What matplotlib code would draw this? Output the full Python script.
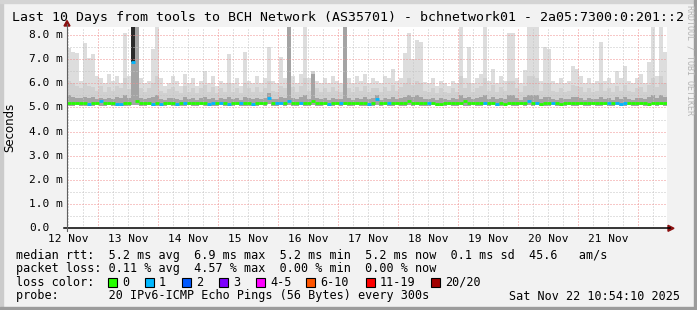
"""
SmokePing style chart: Last 10 days from tools to BCH Network
"""

import pandas as pd
import numpy as np
import matplotlib
matplotlib.use('Agg')
import matplotlib.pyplot as plt
import matplotlib.dates as mdates
from matplotlib.patches import Rectangle, Polygon
from matplotlib.lines import Line2D

W, H = 697, 310
MONO = 'DejaVu Sans Mono'

TITLE = 'Last 10 Days from tools to BCH Network (AS35701) - bchnetwork01 - 2a05:7300:0:201::2'

# 150 steps of 96 minutes, first one at 12 Nov 11:30
START = '2025-11-12 11:30'
STEP_MIN = 96

# smoke: top (max ping) of each step, in ms
rtt_max = [
    7.45, 7.3, 7.25, 6.1, 7.65, 7.05, 7.2, 6.3, 6.2, 6.0, 6.4, 6.1, 6.3, 6.0, 8.1,
    6.3, 8.4, 8.4, 6.2, 6.0, 6.1, 7.4, 8.4, 6.2, 5.9, 6.0, 6.3, 6.1, 5.9, 6.4,
    6.0, 6.2, 5.9, 6.1, 6.5, 6.0, 6.3, 5.9, 6.1, 6.0, 7.2, 6.0, 6.2, 5.9, 7.3,
    6.1, 6.0, 6.3, 6.0, 6.2, 7.5, 6.1, 6.0, 7.1, 6.2, 8.4, 6.3, 6.0, 6.4, 8.4,
    6.2, 6.5, 6.1, 6.0, 6.2, 6.0, 6.3, 6.1, 6.0, 8.4, 6.2, 6.0, 6.3, 6.1, 6.4,
    6.0, 6.2, 6.1, 6.0, 6.3, 6.2, 6.6, 6.1, 6.2, 7.26, 8.1, 7.0, 7.8, 7.7, 6.05,
    6.0, 6.2, 5.9, 6.1, 6.0, 5.9, 6.1, 6.0, 8.4, 6.2, 7.5, 6.0, 6.2, 6.4, 8.4,
    6.1, 6.6, 6.0, 6.3, 6.1, 8.1, 8.1, 6.2, 6.0, 6.55, 8.4, 8.4, 8.4, 6.1, 7.5,
    7.4, 6.1, 6.0, 6.2, 6.0, 6.1, 6.7, 6.6, 6.3, 6.0, 6.2, 6.0, 6.1, 7.7, 6.1,
    6.2, 6.0, 6.5, 6.2, 6.7, 6.1, 6.0, 6.2, 6.4, 6.0, 6.9, 8.4, 6.3, 8.4, 7.3,
]

# smoke: upper bulk of pings
rtt_hi = [
    6.1, 6.0, 5.9, 5.8, 6.0, 5.9, 5.85, 5.7, 5.9, 5.65, 5.85, 5.7, 5.9, 5.8, 6.2,
    5.75, 8.4, 8.4, 5.8, 5.65, 5.8, 6.0, 6.3, 5.7, 5.6, 5.75, 5.85, 5.7, 5.6, 5.9,
    5.65, 5.8, 5.6, 5.8, 5.95, 5.65, 5.85, 5.6, 5.8, 5.65, 6.0, 5.65, 5.8, 5.6, 6.0,
    5.8, 5.65, 5.85, 5.65, 5.8, 6.1, 5.7, 5.65, 5.9, 5.8, 8.4, 5.85, 5.65, 5.9, 6.2,
    5.7, 6.5, 5.8, 5.65, 5.8, 5.65, 5.85, 5.7, 5.65, 8.4, 5.8, 5.65, 5.85, 5.7, 5.9,
    5.65, 5.8, 5.8, 5.65, 5.85, 5.7, 5.95, 5.7, 5.85, 6.0, 6.2, 5.95, 6.1, 6.0, 5.7,
    5.65, 5.8, 5.6, 5.8, 5.65, 5.6, 5.8, 5.65, 6.3, 5.8, 6.0, 5.65, 5.8, 5.9, 6.2,
    5.7, 5.95, 5.65, 5.85, 5.7, 6.1, 6.1, 5.8, 5.65, 5.9, 6.3, 6.3, 6.2, 5.7, 6.0,
    6.0, 5.7, 5.65, 5.8, 5.65, 5.7, 5.95, 5.9, 5.85, 5.65, 5.8, 5.65, 5.7, 6.0, 5.7,
    5.8, 5.65, 5.9, 5.7, 5.95, 5.7, 5.65, 5.8, 5.85, 5.65, 5.95, 6.2, 5.85, 6.3, 6.0,
]

# smoke: dense part around the median
rtt_mid = [
    5.5, 5.45, 5.4, 5.4, 5.45, 5.4, 5.45, 5.35, 5.4, 5.35, 5.4, 5.35, 5.45, 5.4, 5.5,
    5.4, 8.4, 8.4, 5.4, 5.35, 5.4, 5.45, 5.5, 5.35, 5.3, 5.4, 5.4, 5.35, 5.3, 5.45,
    5.35, 5.4, 5.3, 5.4, 5.45, 5.35, 5.4, 5.3, 5.4, 5.35, 5.45, 5.35, 5.4, 5.3, 5.45,
    5.4, 5.35, 5.4, 5.35, 5.4, 5.6, 5.35, 5.35, 5.45, 5.4, 8.4, 5.4, 5.35, 5.45, 5.5,
    5.35, 6.4, 5.4, 5.35, 5.4, 5.3, 5.4, 5.35, 5.35, 8.4, 5.4, 5.3, 5.4, 5.35, 5.45,
    5.35, 5.4, 5.5, 5.3, 5.4, 5.35, 5.45, 5.35, 5.4, 5.45, 5.5, 5.45, 5.5, 5.45, 5.35,
    5.35, 5.4, 5.3, 5.4, 5.35, 5.3, 5.4, 5.35, 5.5, 5.4, 5.45, 5.35, 5.4, 5.45, 5.5,
    5.35, 5.45, 5.35, 5.4, 5.35, 5.5, 5.5, 5.4, 5.3, 5.45, 5.5, 5.5, 5.5, 5.35, 5.45,
    5.45, 5.35, 5.3, 5.4, 5.35, 5.35, 5.45, 5.45, 5.4, 5.3, 5.4, 5.35, 5.35, 5.45, 5.35,
    5.4, 5.3, 5.45, 5.35, 5.45, 5.35, 5.3, 5.4, 5.4, 5.35, 5.45, 5.5, 5.4, 5.5, 5.45,
]

# smoke: bottom (min ping)
rtt_min = [
    5.08, 5.08, 5.1, 5.08, 5.08, 5.05, 5.08, 5.1, 5.08, 5.08, 5.1, 5.08, 5.05, 5.05, 5.08,
    5.08, 5.1, 5.1, 5.08, 5.08, 5.1, 5.05, 5.08, 5.05, 5.08, 5.1, 5.08, 5.05, 5.08, 5.08,
    5.1, 5.08, 5.08, 5.1, 5.08, 5.05, 5.08, 5.08, 5.1, 5.08, 5.05, 5.08, 5.1, 5.08, 5.08,
    5.08, 5.05, 5.08, 5.1, 5.08, 5.15, 5.08, 5.08, 5.1, 5.08, 5.1, 5.08, 5.08, 5.1, 5.08,
    5.08, 5.1, 5.08, 5.08, 5.1, 5.05, 5.08, 5.1, 5.08, 5.1, 5.08, 5.08, 5.1, 5.08, 5.08,
    5.05, 5.08, 5.12, 5.08, 5.1, 5.08, 5.08, 5.1, 5.08, 5.08, 5.1, 5.08, 5.1, 5.08, 5.08,
    5.08, 5.1, 5.05, 5.05, 5.08, 5.1, 5.08, 5.08, 5.1, 5.08, 5.08, 5.1, 5.08, 5.08, 5.1,
    5.08, 5.1, 5.05, 5.08, 5.05, 5.1, 5.08, 5.08, 5.1, 5.08, 5.1, 5.08, 5.1, 5.05, 5.08,
    5.08, 5.1, 5.08, 5.05, 5.08, 5.1, 5.08, 5.08, 5.1, 5.08, 5.08, 5.1, 5.08, 5.08, 5.1,
    5.08, 5.08, 5.1, 5.05, 5.08, 5.1, 5.08, 5.08, 5.1, 5.08, 5.05, 5.1, 5.08, 5.1, 5.08,
]

# median rtt, in ms
median = [
    5.2, 5.2, 5.2, 5.2, 5.2, 5.15, 5.2, 5.2, 5.25, 5.2, 5.2, 5.2, 5.15, 5.15, 5.2,
    5.2, 6.9, 5.25, 5.2, 5.2, 5.2, 5.15, 5.2, 5.15, 5.2, 5.2, 5.2, 5.15, 5.2, 5.2,
    5.2, 5.2, 5.2, 5.2, 5.2, 5.15, 5.2, 5.2, 5.2, 5.2, 5.15, 5.2, 5.2, 5.2, 5.2,
    5.2, 5.15, 5.2, 5.2, 5.2, 5.4, 5.2, 5.2, 5.2, 5.2, 5.25, 5.2, 5.2, 5.2, 5.2,
    5.2, 5.25, 5.2, 5.2, 5.2, 5.15, 5.2, 5.2, 5.2, 5.2, 5.2, 5.2, 5.2, 5.2, 5.2,
    5.15, 5.2, 5.35, 5.2, 5.2, 5.2, 5.2, 5.2, 5.2, 5.2, 5.25, 5.2, 5.2, 5.2, 5.2,
    5.2, 5.2, 5.15, 5.15, 5.2, 5.2, 5.2, 5.2, 5.2, 5.25, 5.2, 5.2, 5.2, 5.2, 5.2,
    5.2, 5.2, 5.15, 5.2, 5.15, 5.2, 5.2, 5.2, 5.2, 5.2, 5.25, 5.2, 5.2, 5.15, 5.2,
    5.2, 5.2, 5.2, 5.15, 5.2, 5.2, 5.2, 5.2, 5.2, 5.2, 5.2, 5.2, 5.2, 5.2, 5.2,
    5.2, 5.2, 5.2, 5.15, 5.2, 5.2, 5.2, 5.2, 5.2, 5.2, 5.15, 5.2, 5.2, 5.2, 5.2,
]

# lost pings (of 20) per step
loss = [
    0, 0, 0, 0, 0, 1, 0, 0, 1, 0, 0, 0, 1, 1, 0,
    0, 1, 0, 0, 0, 0, 1, 0, 1, 0, 0, 0, 1, 0, 1,
    0, 0, 0, 0, 0, 1, 1, 0, 1, 0, 1, 0, 0, 1, 0,
    0, 1, 0, 0, 0, 1, 0, 1, 1, 0, 1, 0, 0, 1, 0,
    0, 0, 0, 0, 0, 1, 0, 0, 1, 0, 0, 0, 0, 0, 0,
    1, 0, 1, 0, 0, 1, 0, 0, 0, 0, 0, 0, 0, 0, 0,
    1, 0, 0, 0, 0, 0, 0, 0, 0, 0, 0, 0, 0, 0, 1,
    0, 0, 1, 0, 0, 0, 0, 0, 0, 0, 1, 0, 1, 0, 0,
    0, 1, 0, 0, 0, 0, 0, 0, 0, 0, 0, 0, 0, 0, 0,
    1, 0, 1, 1, 1, 0, 0, 0, 0, 0, 0, 0, 0, 0, 0,
]

# steps where nearly all pings were slow (black column)
dense_steps = [16]
dense_top = [8.4]

# legend of loss colours
loss_labels = ['0', '1', '2', '3', '4-5', '6-10', '11-19', '20/20']
loss_colors = ['#26ff00', '#00b8ff', '#0059ff', '#7e00ff', '#ff00ff', '#ff5500', '#ff0000', '#a10000']
loss_box_x = [108, 145, 182, 219, 256, 306, 366, 431]
loss_text_x = [122, 159, 196, 233, 270, 320, 380, 445]

day_labels = ['12 Nov', '13 Nov', '14 Nov', '15 Nov', '16 Nov',
              '17 Nov', '18 Nov', '19 Nov', '20 Nov', '21 Nov']
y_ticks = [0, 1, 2, 3, 4, 5, 6, 7, 8]

stat_lines = [
    'median rtt:  5.2 ms avg  6.9 ms max  5.2 ms min  5.2 ms now  0.1 ms sd  45.6   am/s',
    'packet loss: 0.11 % avg  4.57 % max  0.00 % min  0.00 % now',
]
probe_line = 'probe:       20 IPv6-ICMP Echo Pings (56 Bytes) every 300s'
stamp = 'Sat Nov 22 10:54:10 2025'


def fpx(x, y):
    """pixel position (from top left) -> figure fraction"""
    return x / W, 1 - y / H


def plot_smokeping(output_path='out.png'):
    fig = plt.figure(figsize=(W / 100, H / 100), dpi=100, facecolor='#f2f2f2')

    # plot area: x 67..667, y 27..228.3 (pixels)
    ax = fig.add_axes([67 / W, 1 - 228.3 / H, 600 / W, 201.3 / H])
    ax.set_facecolor('white')
    for s in ax.spines.values():
        s.set_visible(False)

    times = pd.date_range(START, periods=len(rtt_max), freq=f'{STEP_MIN}min')
    tx = mdates.date2num(times.to_pydatetime())
    step = STEP_MIN / 1440.0
    t0, t1 = tx[0], tx[0] + 10

    lo = np.array(rtt_min)
    # smoke layers, light to dark
    ax.bar(tx, np.array(rtt_max) - lo, bottom=lo, width=step, align='edge',
           color='#dddddd', linewidth=0, zorder=2)
    ax.bar(tx, np.array(rtt_hi) - lo, bottom=lo, width=step, align='edge',
           color='#d0d0d0', linewidth=0, zorder=2)
    ax.bar(tx, np.array(rtt_mid) - lo, bottom=lo, width=step, align='edge',
           color='#a4a4a4', linewidth=0, zorder=2)
    dx = tx[dense_steps]
    dm = np.array(median)[dense_steps]
    ax.bar(dx, np.array(dense_top) - dm, bottom=dm, width=step, align='edge',
           color='#2a2a2a', linewidth=0, zorder=2)

    # grid: 6 h / 0.5 ms minor, day / 1 ms major
    hours = mdates.date2num(pd.date_range('2025-11-12 12:00', '2025-11-22 06:00', freq='6h').to_pydatetime())
    minor_x = [h for h in hours if round((h % 1) * 24) != 0]
    major_x = [h for h in hours if round((h % 1) * 24) == 0]
    grid_kw = dict(linewidth=0.72, linestyle=(0, (1, 2)), zorder=3)
    ax.vlines(minor_x, 0, 1, transform=ax.get_xaxis_transform(), colors='#c4c4c4', **grid_kw)
    ax.hlines(np.arange(0.5, 8.3, 1.0), 0, 1, transform=ax.get_yaxis_transform(), colors='#c4c4c4', **grid_kw)
    ax.vlines(major_x, 0, 1, transform=ax.get_xaxis_transform(), colors='#f09090', **grid_kw)
    ax.hlines(np.arange(1, 8.3, 1.0), 0, 1, transform=ax.get_yaxis_transform(), colors='#f09090', **grid_kw)

    # median, coloured by loss
    seg_colors = [loss_colors[min(l, 7)] for l in loss]
    ax.hlines(median, tx, tx + step, colors=seg_colors, linewidth=2.0, zorder=4)

    ax.set_xlim(t0, t1)
    ax.set_ylim(0, 8.33)

    # ticks
    noons = mdates.date2num(pd.date_range('2025-11-12 12:00', periods=len(day_labels), freq='D').to_pydatetime())
    ax.set_xticks(noons)
    ax.set_xticklabels(day_labels, fontfamily=MONO, fontsize=8)
    ax.tick_params(axis='x', length=0, pad=4, colors='#000000')
    ax.set_yticks(y_ticks)
    ax.set_yticklabels([])
    ax.tick_params(axis='y', length=0)
    # y labels are left aligned at x = 29
    for v in y_ticks:
        lab = '0.0' if v == 0 else f'{v:.1f} m'
        ax.text(-38 / 600, v, lab, transform=ax.get_yaxis_transform(), ha='left', va='center',
                fontfamily=MONO, fontsize=8)

    # axes lines and arrows
    fig.add_artist(Line2D([fpx(64, 0)[0], fpx(670, 0)[0]], [fpx(0, 228.3)[1]] * 2,
                          color='black', linewidth=1.1, transform=fig.transFigure))
    fig.add_artist(Line2D([fpx(67, 0)[0]] * 2, [fpx(0, 231)[1], fpx(0, 24)[1]],
                          color='#606060', linewidth=0.8, transform=fig.transFigure))
    fig.add_artist(Polygon([fpx(674, 228.3), fpx(668, 225.3), fpx(668, 231.3)],
                           closed=True, color='#8b1010', transform=fig.transFigure))
    fig.add_artist(Polygon([fpx(67, 20.5), fpx(64, 26), fpx(70, 26)],
                           closed=True, color='#8b1010', transform=fig.transFigure))

    # frame around the image
    fig.add_artist(Rectangle(fpx(0, 310), 2.5 / W, 1, color='#cbcbcb', transform=fig.transFigure))
    fig.add_artist(Rectangle(fpx(0, 2.5), 1, 2.5 / H, color='#d4d4d4', transform=fig.transFigure))
    fig.add_artist(Rectangle(fpx(0, 310), 1, 3 / H, color='#9c9c9c', transform=fig.transFigure))
    fig.add_artist(Rectangle(fpx(694, 310), 3 / W, 1, color='#9c9c9c', transform=fig.transFigure))

    # title and labels
    x, y = fpx(348, 18)
    fig.text(x, y, TITLE, ha='center', va='center', fontfamily=MONO, fontsize=9.5)
    x, y = fpx(10, 127)
    fig.text(x, y, 'Seconds', ha='center', va='center', rotation=90,
             fontfamily='DejaVu Sans', fontsize=8.5)
    x, y = fpx(690, 60)
    fig.text(x, y, 'RRDTOOL / TOBI OETIKER', ha='center', va='center', rotation=270,
             fontfamily=MONO, fontsize=6, color='#b4b4b4')

    # statistics block
    for i, line in enumerate(stat_lines):
        x, y = fpx(16, 255 + i * 13.7)
        fig.text(x, y, line, ha='left', va='center', fontfamily=MONO, fontsize=8.5)

    x, y = fpx(16, 282.3)
    fig.text(x, y, 'loss color:', ha='left', va='center', fontfamily=MONO, fontsize=8.5)
    for lab, col, bx, lx in zip(loss_labels, loss_colors, loss_box_x, loss_text_x):
        fig.add_artist(Rectangle(fpx(bx, 286.7), 9 / W, 9 / H, facecolor=col,
                                 edgecolor='black', linewidth=0.8, transform=fig.transFigure))
        x, y = fpx(lx, 282.3)
        fig.text(x, y, lab, ha='left', va='center', fontfamily=MONO, fontsize=8.5)

    x, y = fpx(16, 296)
    fig.text(x, y, probe_line, ha='left', va='center', fontfamily=MONO, fontsize=8.5)
    x, y = fpx(680, 296)
    fig.text(x, y, stamp, ha='right', va='center', fontfamily=MONO, fontsize=8.5)

    fig.savefig(output_path, dpi=100, facecolor=fig.get_facecolor())
    plt.close(fig)
    return output_path


if __name__ == '__main__':
    plot_smokeping()
